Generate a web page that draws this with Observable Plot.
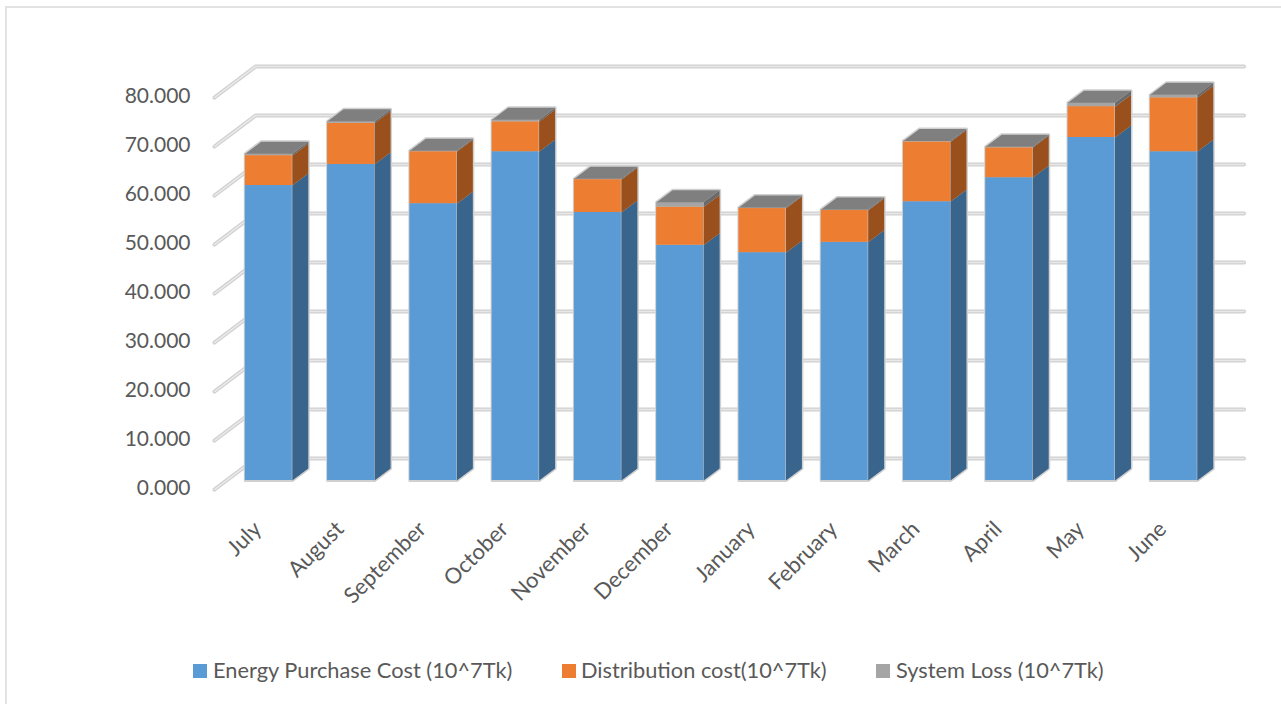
<!DOCTYPE html>
<html>
<head>
<meta charset="utf-8">
<script src="https://cdn.jsdelivr.net/npm/d3@7"></script>
<script src="https://cdn.jsdelivr.net/npm/@observablehq/plot@0.6"></script>
<style>
  html, body { margin: 0; padding: 0; background: #fff; overflow: hidden; }
  body { width: 1281px; height: 704px; position: relative; font-family: Lato, "Open Sans", sans-serif; }
  #frame { position: absolute; left: 5px; top: 6px; width: 1290px; height: 720px;
           border-left: 2px solid #e2e2e2; border-top: 2px solid #e2e2e2; pointer-events: none; }
  #chart svg { display: block; }
  #legend { position: absolute; left: 0; top: 657px; height: 26px; width: 1281px;
            font-size: 21.8px; line-height: 26px; color: #595959; }
  #legend .swatch { position: absolute; top: 7px; width: 14px; height: 14px; }
  #legend .label { position: absolute; top: 0; white-space: nowrap; }
</style>
</head>
<body>
<div id="chart"></div>
<div id="legend"></div>
<div id="frame"></div>
<script>
// Monthly cost breakdown, in 10^7 Tk
const months = ["July", "August", "September", "October", "November", "December",
                "January", "February", "March", "April", "May", "June"];
const energyPurchase = [60.2, 64.5, 56.5, 67.1, 54.7, 48.0, 46.5, 48.6, 56.9, 61.8, 70.0, 67.1];
const distribution   = [ 6.1,  8.4, 10.6,  6.1,  6.7,  7.8,  9.0,  6.5, 12.2,  6.1,  6.3, 11.0];
const systemLoss     = [ 0.4,  0.4,  0.2,  0.4,  0.2,  1.0,  0.2,  0.2,  0.2,  0.2,  0.8,  0.6];
const yTicks = [0, 10, 20, 30, 40, 50, 60, 70, 80];

const seriesNames = ["Energy Purchase Cost (10^7Tk)", "Distribution cost(10^7Tk)", "System Loss (10^7Tk)"];
const frontColors = ["#5b9bd5", "#ed7d31", "#a5a5a5"];
const sideColors  = ["#39648c", "#99501c", "#6a6a6a"];
const topColor = "#7f7f7f";

// Scale layout: one x unit is one month slot, y is in data units
const W = 1281, H = 650;
const slot = 82.27, firstCentre = 268.3, baseline = 480, pxPerUnit = 4.9;
const halfBar = 23.5 / slot;
const depthX = 16 / slot, depthY = 12 / pxPerUnit;      // bar depth in the oblique projection
const wallFrontX = (214 - firstCentre) / slot, wallBackX = (255 - firstCentre) / slot;
const wallEndX = (1243.5 - firstCentre) / slot;
const gridFrontLift = -1.84, gridBackLift = 4.49;

// Stack the three series
const segments = months.flatMap((m, i) => {
  let base = 0;
  return [energyPurchase[i], distribution[i], systemLoss[i]].map((v, s) => {
    const seg = {i, s, y0: base, y1: base + v, front: frontColors[s], side: sideColors[s]};
    base += v;
    return seg;
  });
});
const totals = months.map((m, i) => ({i, v: energyPurchase[i] + distribution[i] + systemLoss[i]}));

// Closed polygons for the receding faces
const poly = (id, fill, pts) => pts.map(([x, y]) => ({id, fill, x, y}));
const sideFaces = segments.flatMap(d => {
  const r = d.i + halfBar;
  return poly(`side-${d.i}-${d.s}`, d.side, [
    [r, d.y0], [r + depthX, d.y0 + depthY], [r + depthX, d.y1 + depthY], [r, d.y1]
  ]);
});
const topFaces = totals.flatMap(d => {
  const l = d.i - halfBar, r = d.i + halfBar;
  return poly(`top-${d.i}`, topColor, [
    [l, d.v], [r, d.v], [r + depthX, d.v + depthY], [l + depthX, d.v + depthY]
  ]);
});
// Soft outline behind each whole bar
const outlines = totals.flatMap(d => {
  const l = d.i - halfBar, r = d.i + halfBar;
  return poly(`edge-${d.i}`, "#d0d0d0", [
    [l, 0], [r, 0], [r + depthX, depthY], [r + depthX, d.v + depthY],
    [l + depthX, d.v + depthY], [l, d.v]
  ]);
});
// Gridlines run along the side wall, then across the back wall
const gridLines = yTicks.flatMap(t => [
  {t, x: wallFrontX, y: t + gridFrontLift},
  {t, x: wallBackX,  y: t + gridBackLift},
  {t, x: wallEndX,   y: t + gridBackLift}
]);

const grid = (stroke, strokeWidth) => Plot.line(gridLines, {
  x: "x", y: "y", z: "t", stroke, strokeWidth, curve: "linear", strokeLinecap: "round", strokeLinejoin: "round"
});
const faces = (data) => Plot.line(data, {
  x: "x", y: "y", z: "id", fill: "fill", stroke: null, curve: "linear-closed"
});

const plot = Plot.plot({
  width: W, height: H,
  marginTop: 0, marginRight: 0, marginBottom: 0, marginLeft: 0,
  x: {type: "linear", domain: [-firstCentre / slot, (W - firstCentre) / slot], range: [0, W], axis: null},
  y: {type: "linear", domain: [(baseline - H) / pxPerUnit, baseline / pxPerUnit], range: [H, 0], axis: null},
  color: {type: "identity"},
  style: {background: "transparent", overflow: "visible"},
  marks: [
    grid("#cfcfcf", 4),
    grid("#e8e8e8", 1.6),
    Plot.line(outlines, {x: "x", y: "y", z: "id", stroke: "#d0d0d0", strokeWidth: 3, fill: "#d0d0d0", curve: "linear-closed"}),
    Plot.rect(segments, {x1: d => d.i - halfBar, x2: d => d.i + halfBar, y1: "y0", y2: "y1", fill: "front"}),
    faces(sideFaces),
    faces(topFaces),
    Plot.text(yTicks, {
      x: wallFrontX, y: d => d, text: d => d3.format(".3f")(d),
      textAnchor: "end", dx: -24, dy: 8, fontSize: 21, fill: "#595959", fontFamily: "Lato, sans-serif"
    }),
    Plot.text(months, {
      x: (d, i) => i, y: 0, text: d => d,
      rotate: -45, textAnchor: "end", dx: -11, dy: 45, fontSize: 22, fill: "#595959", fontFamily: "Lato, sans-serif"
    })
  ]
});
document.getElementById("chart").appendChild(plot);

// Legend, laid out below the plot
const legend = d3.select("#legend");
const swatchLeft = [193, 562, 876];
const labelLeft = [213, 581, 896];
seriesNames.forEach((name, s) => {
  legend.append("div").attr("class", "swatch").style("left", swatchLeft[s] + "px").style("background", frontColors[s]);
  legend.append("div").attr("class", "label").style("left", labelLeft[s] + "px").text(name);
});
</script>
</body>
</html>
